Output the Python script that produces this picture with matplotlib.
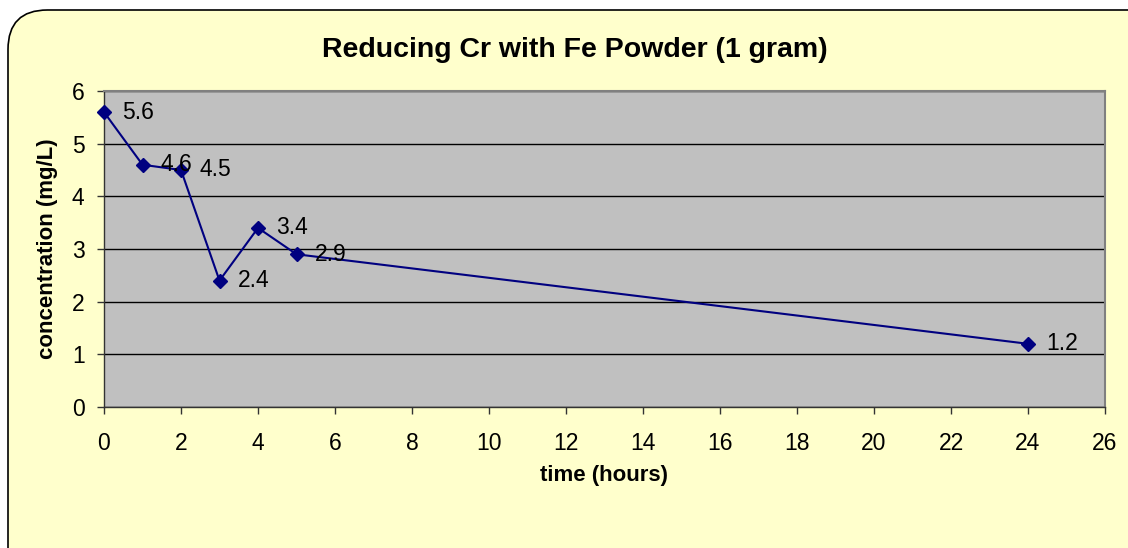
import matplotlib
matplotlib.use("Agg")
import matplotlib.pyplot as plt
from matplotlib.patches import FancyBboxPatch

time_hours = [0, 1, 2, 3, 4, 5, 24]
concentration = [5.6, 4.6, 4.5, 2.4, 3.4, 2.9, 1.2]
x_ticks = list(range(0, 27, 2))
y_ticks = list(range(0, 7))

plt.rcParams['font.family'] = ['Liberation Sans', 'DejaVu Sans']

W, H = 1128, 548
fig = plt.figure(figsize=(W / 100, H / 100), dpi=100)
fig.patch.set_facecolor('white')

# rounded chart-area border
box = FancyBboxPatch((8 / W, -40 / H), (W + 40) / W, (H - 10 + 40) / H,
                     boxstyle="round,pad=0,rounding_size=0.035",
                     transform=fig.transFigure, facecolor='#FFFFCC',
                     edgecolor='black', linewidth=1.2, mutation_aspect=W / H,
                     zorder=-5)
fig.patches.append(box)

ax = fig.add_axes([104 / W, 1 - 407 / H, (1105 - 104) / W, (407 - 91) / H])
ax.set_facecolor('#C0C0C0')
ax.plot(time_hours, concentration, color='#000080', linewidth=1.5,
        marker='D', markersize=7.5, markerfacecolor='#000080',
        markeredgecolor='#000080', zorder=3, clip_on=False)
for x, y in zip(time_hours, concentration):
    ax.annotate(f"{y:g}", (x, y), xytext=(13, 0), textcoords='offset points',
                ha='left', va='center', fontsize=16.5, color='black')

ax.set_xlim(0, 26)
ax.set_ylim(0, 6)
ax.set_xticks(x_ticks)
ax.set_yticks(y_ticks)
ax.tick_params(axis='both', direction='out', length=5, width=1, labelsize=16.5,
               color='#333333')
ax.tick_params(axis='x', pad=13)
ax.tick_params(axis='y', pad=9)
ax.yaxis.grid(True, color='black', linewidth=1)
ax.set_axisbelow(True)
for s in ['top', 'right']:
    ax.spines[s].set_color('#808080')
    ax.spines[s].set_linewidth(1.5)
for s in ['left', 'bottom']:
    ax.spines[s].set_color('#333333')
    ax.spines[s].set_linewidth(1)

ax.set_xlabel('time (hours)', fontsize=16, fontweight='bold', labelpad=7)
ax.set_ylabel('concentration (mg/L)', fontsize=16, fontweight='bold', labelpad=10)
fig.text(575 / W, 1 - 50 / H, 'Reducing Cr with Fe Powder (1 gram)',
         ha='center', va='center', fontsize=20.5, fontweight='bold')

fig.savefig('out.png', dpi=100)
